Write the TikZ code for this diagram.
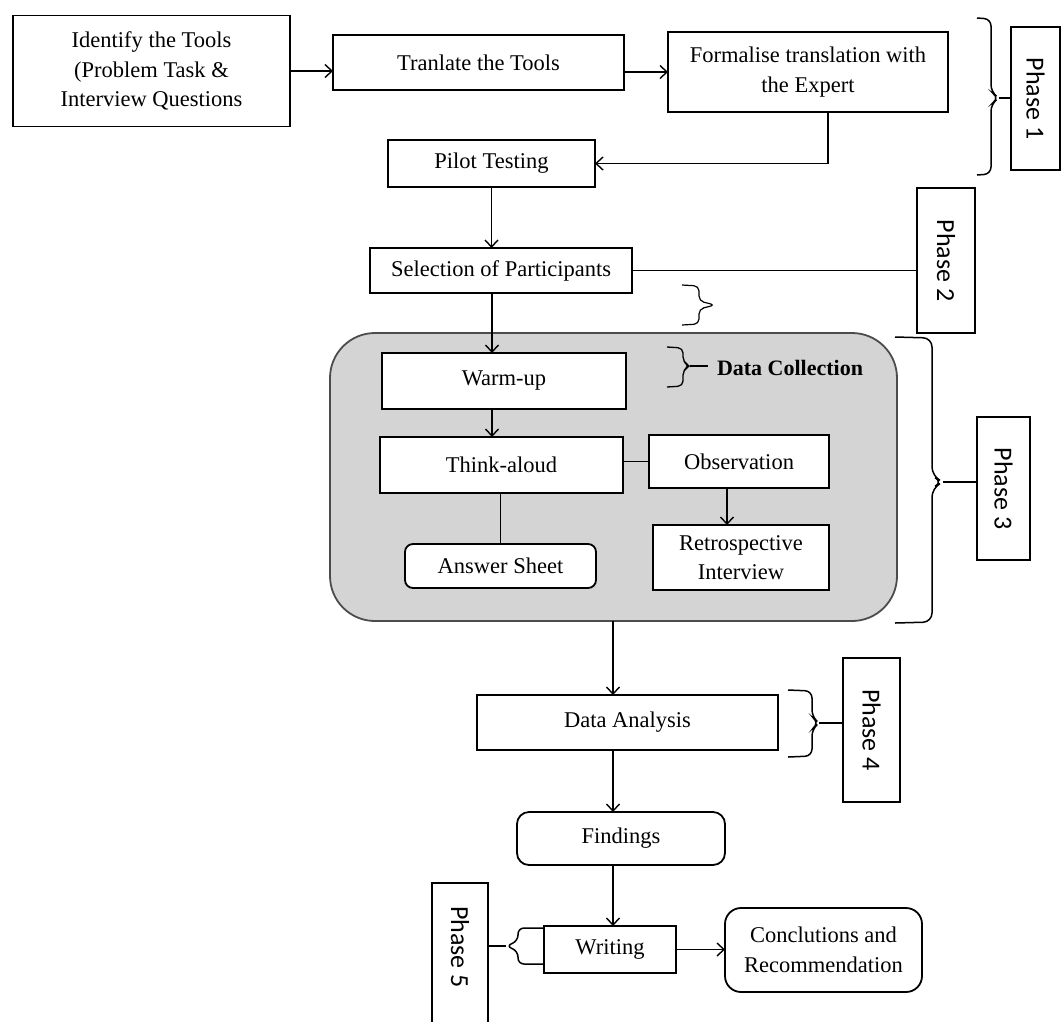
\documentclass[tikz,border=0pt]{standalone}
\usepackage{fontspec}
\setmainfont{Liberation Serif}
\newfontfamily\phasefont{Carlito}
\usepackage{graphicx}
\usetikzlibrary{arrows.meta}

\begin{document}
\begin{tikzpicture}[x=1pt, y=-1pt,
  every node/.style={inner sep=0pt, outer sep=0pt},
  sz/.style 2 args={minimum width=#1pt, minimum height=#2pt},
  stage/.style={draw, line width=1.8pt, fill=white, align=center,
    font=\fontsize{22.5}{29.5}\selectfont},
  rstage/.style={stage, rounded corners=#1},
  phasebox/.style={draw, line width=1.8pt, fill=white,
    font=\phasefont\fontsize{26}{30}\selectfont},
  link/.style={line width=1.5pt},
  arr/.style={link, -{Straight Barb[length=7pt, width=13pt, line width=1.4pt]}},
  brc/.style={line width=1.5pt, rounded corners=7pt},
]
% page
\useasboundingbox[fill=white] (0,0) rectangle (1062,1021);

% shared x positions of the vertical connectors
\coordinate (trunk) at (492,0);
\coordinate (spine) at (613,0);
\coordinate (retx) at (727,0);
\coordinate (expx) at (828,0);

% ---------- Phase 1 ----------
\node[stage, sz={277}{111}] (tools) at (151.5,71)
  {Identify the Tools\\(Problem Task \&\\Interview Questions};
\node[stage, sz={291}{55}] (translate) at (478.5,62.5) {Tranlate the Tools};
\node[stage, sz={280}{80}] (expert) at (808,72)
  {Formalise translation with\\the Expert};
\node[stage, sz={207}{47}] (pilot) at (491.5,163.5) {Pilot Testing};

\draw[arr] (tools.east) -- (tools.east -| translate.west);
\draw[arr] (translate.east |- expert.west) -- (expert.west);
\draw[arr] (expert.south -| expx) |- (pilot.east);

\node[phasebox, sz={49}{143}] (phase1) at (1035.5,98.5) {\rotatebox{-90}{Phase 1}};
\draw[brc] (977,18) -- (991,19) -- (991,92) -- (999,98) -- (991,104) -- (991,174) -- (977,175);
\coordinate (b1tip) at (999,98);
\draw[link] (b1tip) -- (b1tip -| phase1.west);

% ---------- Phase 2 ----------
\node[stage, sz={262}{45}] (select) at (501,270.5) {Selection of Participants};
\draw[arr] (pilot.south) -- (pilot.south |- select.north);

\node[phasebox, sz={58}{145}] (phase2) at (946,260.5) {\rotatebox{-90}{Phase 2}};
\draw[link] (select.east) -- (select.east -| phase2.west);
\draw[brc, line width=1.2pt, rounded corners=5pt]
  (682,285) -- (699,286) -- (699,301) -- (715,305) -- (699,309) -- (699,324) -- (682,325);

% ---------- Phase 3: data collection ----------
\node[draw=black!70, line width=1.8pt, fill=black!17, rounded corners=45pt,
  sz={567}{288}] (dcpanel) at (613.5,477) {};

\node[stage, sz={244}{56}] (warm) at (504,381) {Warm-up};
\node[stage, sz={243}{56}] (think) at (501.5,465) {Think-aloud};
\node[stage, sz={180}{53}] (obs) at (739,461.5) {Observation};
\node[stage, sz={176}{65}] (retro) at (741,557.5) {Retrospective\\Interview};
\node[rstage=8pt, sz={191}{44}] (answer) at (500.5,566) {Answer Sheet};

\draw[arr] (select.south -| trunk) -- (warm.north -| trunk);
\draw[arr] (warm.south -| trunk) -- (think.north -| trunk);
\draw[link] (think.east |- obs.west) -- (obs.west);
\draw[arr] (obs.south -| retx) -- (retro.north -| retx);
\draw[link] (think.south -| answer.north) -- (answer.north);

\node[anchor=west, font=\bfseries\fontsize{22}{26}\selectfont] (dclabel) at (717,368) {Data Collection};
\draw[brc, line width=1.3pt, rounded corners=5pt]
  (667,347) -- (683,348) -- (683,362) -- (690,366) -- (683,370) -- (683,386) -- (667,387);
\coordinate (dctip) at (690,366);
\draw[link] (dctip) -- ([xshift=-9pt]dctip -| dclabel.west);

\node[phasebox, sz={53}{143}] (phase3) at (1003.5,488.5) {\rotatebox{-90}{Phase 3}};
\draw[brc, rounded corners=9pt]
  (895,337) -- (932,338) -- (932,476) -- (943,482) -- (932,488) -- (932,622) -- (895,623);
\coordinate (b3tip) at (943,482);
\draw[link] (b3tip) -- (b3tip -| phase3.west);

% ---------- Phase 4 ----------
\node[stage, sz={301}{55}] (analysis) at (627.5,722.5) {Data Analysis};
\draw[arr] (dcpanel.south -| spine) -- (analysis.north -| spine);

\node[phasebox, sz={57}{144}] (phase4) at (871.5,730) {\rotatebox{-90}{Phase 4}};
\draw[brc] (788,690) -- (812,691) -- (812,717) -- (819,723) -- (812,729) -- (812,756) -- (788,757);
\coordinate (b4tip) at (819,723);
\draw[link] (b4tip) -- (b4tip -| phase4.west);

% ---------- Phase 5 ----------
\node[rstage=12pt, sz={208}{53}] (findings) at (621,838.5) {Findings};
\node[stage, sz={132}{47}] (writing) at (610,949.5) {Writing};
\node[rstage=16pt, sz={197}{84}] (concl) at (823.5,950)
  {Conclutions and\\Recommendation};

\draw[arr] (analysis.south -| spine) -- (findings.north -| spine);
\draw[arr] (findings.south -| spine) -- (writing.north -| spine);
\draw[arr] (writing.east) -- (writing.east -| concl.west);

% Phase 5 frame runs past the lower edge of the page
\draw[line width=1.8pt, fill=white] (432,883) rectangle (488,1040);
\node[font=\phasefont\fontsize{26}{30}\selectfont] (phase5) at (460,947) {\rotatebox{-90}{Phase 5}};
\draw[brc, rounded corners=6pt]
  (544,928) -- (518,928) -- (518,941) -- (506,946) -- (518,951) -- (518,964) -- (544,964);
\coordinate (b5tip) at (506,946);
\draw[link] (b5tip) -- (488,946);
\end{tikzpicture}
\end{document}
